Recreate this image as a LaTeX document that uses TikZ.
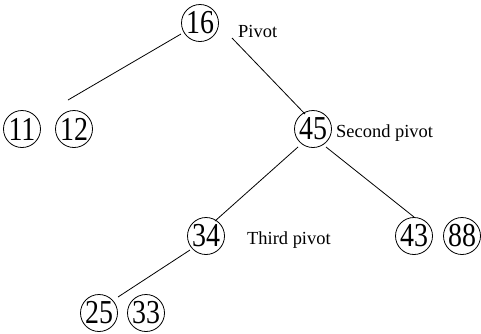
\documentclass[tikz,border=0pt]{standalone}
\usepackage{fontspec}
\setmainfont{Liberation Serif}
\begin{document}
\begin{tikzpicture}[x=1bp,y=-1bp,
  num/.style={circle,draw,line width=0.8bp,minimum size=37bp,inner sep=0pt,font=\fontsize{28}{28}\selectfont},
  lbl/.style={anchor=west,inner sep=0pt,font=\fontsize{18.5}{18.5}\selectfont},
  edge/.style={line width=0.8bp}]
\useasboundingbox (0,0) rectangle (481,333);
\newcommand{\tall}[1]{\scalebox{1}[1.2]{#1}}
\node[num] (n16) at (200,23) {\tall{16}};
\node[lbl] (p1) at (238,31) {Pivot};
\node[num] (n11) at (22,129) {\tall{11}};
\node[num] (n12) at (74,129) {\tall{12}};
\node[num] (n45) at (313,129) {\tall{45}};
\node[lbl] (p2) at (336,133) {Second pivot};
\node[num] (n34) at (206,236) {\tall{34}};
\node[lbl] (p3) at (247,240) {Third pivot};
\node[num] (n43) at (414,236) {\tall{43}};
\node[num] (n88) at (462,236) {\tall{88}};
\node[num] (n25) at (99,313) {\tall{25}};
\node[num] (n33) at (146,313) {\tall{33}};
\coordinate (a1) at (181,34);
\coordinate (b1) at (68,100);
\coordinate (a2) at (232,38);
\coordinate (b2) at (305,114);
\coordinate (a3) at (298,147);
\coordinate (b3) at (215,221);
\coordinate (a4) at (326,147);
\coordinate (b4) at (414,217);
\coordinate (a5) at (190,250);
\coordinate (b5) at (118,297);
\draw[edge] (a1) -- (b1);
\draw[edge] (a2) -- (b2);
\draw[edge] (a3) -- (b3);
\draw[edge] (a4) -- (b4);
\draw[edge] (a5) -- (b5);
\end{tikzpicture}
\end{document}
